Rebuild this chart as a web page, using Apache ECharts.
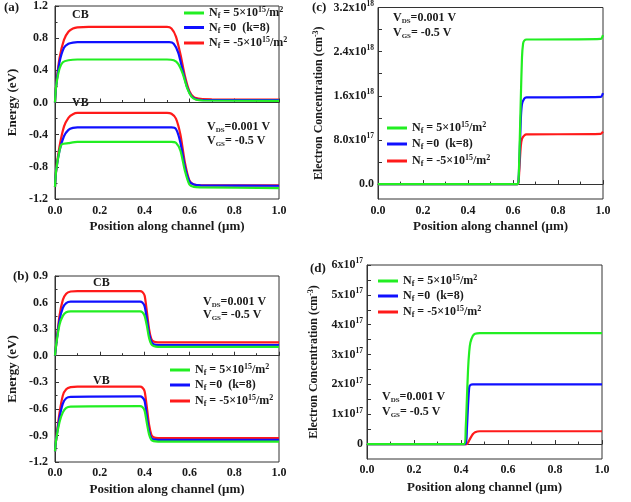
<!DOCTYPE html>
<html>
<head>
<meta charset="utf-8">
<title>Energy bands and electron concentration</title>
<script src="https://cdn.jsdelivr.net/npm/echarts@6/dist/echarts.min.js"></script>
<style>
  html, body { margin: 0; padding: 0; background: #fff; }
  #chart { width: 631px; height: 502px; }
</style>
</head>
<body>
<div id="chart"></div>
<script>
// series names (order: Nf>0, Nf=0, Nf<0)
const seriesNames = ['Nf = 5x10^15/m^2', 'Nf = 0 (k=8)', 'Nf = -5x10^15/m^2']
const seriesColors = ['#22ee22', '#1010ff', '#ff1a1a']

// (a) energy bands, [position um, energy eV]
const aCbGreen = [[0,0],[0.005,0.2],[0.02,0.42],[0.035,0.5],[0.06,0.525],[0.1,0.535],[0.5,0.535],[0.53,0.525],[0.55,0.48],[0.57,0.36],[0.59,0.18],[0.61,0.07],[0.63,0.035],[0.66,0.025],[1,0.02]]
const aCbBlue = [[0,0],[0.005,0.2],[0.02,0.5],[0.04,0.68],[0.06,0.73],[0.08,0.745],[0.1,0.75],[0.51,0.75],[0.53,0.73],[0.55,0.62],[0.57,0.4],[0.59,0.19],[0.61,0.075],[0.63,0.04],[0.66,0.03],[1,0.03]]
const aCbRed = [[0,0],[0.005,0.2],[0.02,0.55],[0.04,0.78],[0.06,0.88],[0.08,0.92],[0.1,0.935],[0.15,0.94],[0.5,0.94],[0.52,0.92],[0.54,0.82],[0.56,0.6],[0.58,0.33],[0.6,0.14],[0.62,0.065],[0.65,0.045],[0.7,0.04],[1,0.035]]
const aVbGreen = [[0,-1.05],[0.005,-0.85],[0.02,-0.6],[0.03,-0.52],[0.06,-0.505],[0.1,-0.49],[0.52,-0.49],[0.54,-0.5],[0.56,-0.6],[0.58,-0.85],[0.6,-1.02],[0.62,-1.05],[0.65,-1.055],[1,-1.065]]
const aVbBlue = [[0,-1.05],[0.005,-0.85],[0.02,-0.6],[0.04,-0.42],[0.06,-0.34],[0.08,-0.315],[0.1,-0.31],[0.52,-0.31],[0.54,-0.33],[0.56,-0.5],[0.58,-0.8],[0.6,-0.98],[0.62,-1.02],[0.65,-1.03],[1,-1.035]]
const aVbRed = [[0,-1.05],[0.005,-0.85],[0.02,-0.55],[0.04,-0.3],[0.06,-0.19],[0.08,-0.145],[0.1,-0.13],[0.5,-0.13],[0.52,-0.14],[0.54,-0.2],[0.56,-0.4],[0.58,-0.75],[0.6,-0.97],[0.62,-1.02],[0.65,-1.03],[1,-1.03]]

// (b) energy bands
const bCbGreen = [[0,0],[0.005,0.12],[0.02,0.35],[0.035,0.45],[0.05,0.49],[0.07,0.5],[0.38,0.5],[0.39,0.49],[0.4,0.45],[0.41,0.34],[0.42,0.2],[0.43,0.13],[0.44,0.11],[0.46,0.1],[1,0.1]]
const bCbBlue = [[0,0],[0.005,0.12],[0.02,0.4],[0.035,0.54],[0.05,0.595],[0.07,0.61],[0.38,0.61],[0.39,0.6],[0.4,0.56],[0.41,0.42],[0.42,0.25],[0.43,0.16],[0.44,0.13],[0.46,0.12],[1,0.12]]
const bCbRed = [[0,0],[0.005,0.12],[0.02,0.45],[0.035,0.63],[0.05,0.7],[0.07,0.725],[0.1,0.73],[0.38,0.73],[0.39,0.72],[0.4,0.68],[0.41,0.5],[0.42,0.3],[0.43,0.19],[0.44,0.16],[0.46,0.15],[1,0.15]]
const bVbGreen = [[0,-1.08],[0.005,-0.95],[0.02,-0.75],[0.035,-0.64],[0.05,-0.59],[0.07,-0.575],[0.38,-0.57],[0.39,-0.58],[0.4,-0.62],[0.41,-0.76],[0.42,-0.89],[0.43,-0.95],[0.44,-0.965],[0.46,-0.97],[1,-0.97]]
const bVbBlue = [[0,-1.08],[0.005,-0.95],[0.02,-0.7],[0.035,-0.54],[0.05,-0.48],[0.07,-0.465],[0.38,-0.46],[0.39,-0.47],[0.4,-0.51],[0.41,-0.68],[0.42,-0.85],[0.43,-0.93],[0.44,-0.945],[0.46,-0.95],[1,-0.95]]
const bVbRed = [[0,-1.08],[0.005,-0.95],[0.02,-0.65],[0.035,-0.45],[0.05,-0.38],[0.07,-0.355],[0.1,-0.35],[0.38,-0.35],[0.39,-0.36],[0.4,-0.4],[0.41,-0.58],[0.42,-0.78],[0.43,-0.89],[0.44,-0.92],[0.46,-0.93],[1,-0.93]]

// (c) electron concentration, values in 1e18 cm^-3
const cGreen = [[0,0],[0.62,0],[0.625,0.1],[0.63,0.8],[0.635,1.6],[0.64,2.3],[0.645,2.55],[0.65,2.6],[0.66,2.62],[0.7,2.62],[0.99,2.63],[1,2.7]]
const cBlue = [[0,0],[0.62,0],[0.625,0.1],[0.63,0.6],[0.635,1.2],[0.64,1.45],[0.65,1.55],[0.66,1.57],[0.99,1.58],[1,1.65]]
const cRed = [[0,0],[0.62,0],[0.625,0.05],[0.63,0.4],[0.635,0.7],[0.64,0.82],[0.65,0.88],[0.66,0.9],[0.99,0.91],[1,0.95]]

// (d) electron concentration, values in 1e17 cm^-3
const dGreen = [[0,0],[0.415,0],[0.42,0.5],[0.425,1.5],[0.43,2.5],[0.435,3.1],[0.44,3.4],[0.45,3.62],[0.46,3.7],[0.48,3.72],[1,3.72]]
const dBlue = [[0,0],[0.42,0],[0.425,0.5],[0.43,1.3],[0.435,1.9],[0.44,1.98],[0.45,2.0],[1,2.0]]
const dRed = [[0,0],[0.425,0],[0.43,0.05],[0.44,0.2],[0.45,0.33],[0.46,0.4],[0.48,0.43],[1,0.43]]

// tick values / labels for the concentration axes
const cTickVals = [0, 0.8, 1.6, 2.4, 3.2]
const cTickText = ['{b|0.0}', '{b|8.0x10}{s|17}', '{b|1.6x10}{s|18}', '{b|2.4x10}{s|18}', '{b|3.2x10}{s|18}']
const cMinorVals = [0.4, 1.2, 2.0, 2.8]
const dTickVals = [0, 1, 2, 3, 4, 5, 6]
const dTickText = ['{b|0}', '{b|1x10}{s|17}', '{b|2x10}{s|17}', '{b|3x10}{s|17}', '{b|4x10}{s|17}', '{b|5x10}{s|17}', '{b|6x10}{s|17}']
const dMinorVals = [0.5, 1.5, 2.5, 3.5, 4.5, 5.5]

const FONT = '"Liberation Serif", "Times New Roman", serif'
const INK = '#1a1a1a'

const legendText = {}
legendText[seriesNames[0]] = '{n|N}{sub|f}{n| = 5×10}{sup|15}{n|/m}{sup|2}'
legendText[seriesNames[1]] = '{n|N}{sub|f}{n| =0  (k=8)}'
legendText[seriesNames[2]] = '{n|N}{sub|f}{n| = -5×10}{sup|15}{n|/m}{sup|2}'

const legendRich = {
  n: { fontFamily: FONT, fontWeight: 'bold', fontSize: 12, color: INK, lineHeight: 14 },
  sub: { fontFamily: FONT, fontWeight: 'bold', fontSize: 8, color: INK, verticalAlign: 'bottom' },
  sup: { fontFamily: FONT, fontWeight: 'bold', fontSize: 8, color: INK, verticalAlign: 'top' }
}
const labelRich = {
  b: { fontFamily: FONT, fontWeight: 'bold', fontSize: 12, color: INK, lineHeight: 15 },
  s: { fontFamily: FONT, fontWeight: 'bold', fontSize: 7.5, color: INK, verticalAlign: 'top' }
}

function makeLegend(left, top, gap) {
  return {
    left: left, top: top, orient: 'vertical', padding: 0, itemGap: gap,
    itemWidth: 20, itemHeight: 3, icon: 'rect', selectedMode: false,
    data: seriesNames,
    formatter: function (name) { return legendText[name] },
    textStyle: { rich: legendRich }
  }
}

const nameStyle = { fontFamily: FONT, fontWeight: 'bold', fontSize: 13, color: INK }
const tickLine = { color: '#333', width: 1 }

function xAxisFor(grid, margin, gap) {
  return {
    type: 'value', gridIndex: grid, min: 0, max: 1, interval: 0.2,
    name: 'Position along channel (μm)', nameLocation: 'middle', nameGap: gap,
    nameTextStyle: nameStyle,
    axisLine: { lineStyle: tickLine },
    axisTick: { inside: true, length: 4, lineStyle: tickLine },
    minorTick: { show: true, splitNumber: 2, length: 2.5, lineStyle: tickLine },
    splitLine: { show: false },
    axisLabel: { fontFamily: FONT, fontWeight: 'bold', fontSize: 12, color: INK, margin: margin,
      formatter: function (v) { return v.toFixed(1) } }
  }
}

function energyAxis(grid, min, max, step) {
  return {
    type: 'value', gridIndex: grid, min: min, max: max, interval: step,
    name: 'Energy (eV)', nameLocation: 'middle', nameGap: 36, nameTextStyle: nameStyle,
    axisLine: { lineStyle: tickLine },
    axisTick: { inside: true, length: 4, lineStyle: tickLine },
    minorTick: { show: true, splitNumber: 2, length: 2.5, lineStyle: tickLine },
    splitLine: { show: false },
    axisLabel: { fontFamily: FONT, fontWeight: 'bold', fontSize: 12, color: INK, margin: 7,
      formatter: function (v) { return (Math.abs(v) < 1e-9 ? 0 : v).toFixed(1) } }
  }
}

function concAxis(grid, min, max, vals, texts, minors, gap) {
  return {
    type: 'value', gridIndex: grid, min: min, max: max,
    name: '{t|Electron Concentration (cm}{s|-3}{t|)}', nameLocation: 'middle', nameGap: gap,
    nameTextStyle: { rich: {
      t: { fontFamily: FONT, fontWeight: 'bold', fontSize: 12, color: INK, lineHeight: 14 },
      s: { fontFamily: FONT, fontWeight: 'bold', fontSize: 8, color: INK, verticalAlign: 'top' }
    } },
    axisLine: { lineStyle: tickLine },
    axisTick: { inside: true, length: 4, lineStyle: tickLine, customValues: vals.concat(minors) },
    splitLine: { show: false },
    axisLabel: { margin: 4, customValues: vals, rich: labelRich,
      formatter: function (v) { return texts[vals.indexOf(v)] || '' } }
  }
}

function lines(xi, data3, smooth) {
  return data3.map(function (d, i) {
    return {
      name: seriesNames[i], type: 'line', xAxisIndex: xi, yAxisIndex: xi,
      data: d, showSymbol: false, smooth: smooth, z: 3 - i,
      lineStyle: { width: 2.2, color: seriesColors[i] },
      itemStyle: { color: seriesColors[i] }
    }
  })
}

function txt(x, y, text, size, rich) {
  return {
    type: 'text', x: x, y: y,
    style: { text: text, fontFamily: FONT, fontWeight: 'bold', fontSize: size, fill: INK,
      verticalAlign: 'middle', rich: rich }
  }
}

const vRich = {
  b: { fontFamily: FONT, fontWeight: 'bold', fontSize: 12, color: INK, lineHeight: 14 },
  sub: { fontFamily: FONT, fontWeight: 'bold', fontSize: 7, color: INK, verticalAlign: 'bottom' }
}
const vds = '{b|V}{sub|DS}{b|=0.001 V}'
const vgs = '{b|V}{sub|GS}{b|= -0.5 V}'

const chart = echarts.init(document.getElementById('chart'), null, { renderer: 'canvas' })

const gridStyle = { show: true, borderColor: '#333', borderWidth: 1, backgroundColor: 'transparent', containLabel: false }

const option = {
  backgroundColor: '#fff',
  animation: false,
  grid: [
    Object.assign({ left: 55, top: 4, width: 224, height: 195 }, gridStyle),
    Object.assign({ left: 378, top: 4, width: 225, height: 195 }, gridStyle),
    Object.assign({ left: 55, top: 276, width: 224, height: 186 }, gridStyle),
    Object.assign({ left: 367, top: 265, width: 235, height: 194 }, gridStyle)
  ],
  xAxis: [xAxisFor(0, 6, 21), xAxisFor(1, 6, 21), xAxisFor(2, 5, 21), xAxisFor(3, 5, 22)],
  yAxis: [
    energyAxis(0, -1.2, 1.2, 0.4),
    concAxis(1, -0.27, 3.2, cTickVals, cTickText, cMinorVals, 52),
    energyAxis(2, -1.2, 0.9, 0.3),
    concAxis(3, -0.5, 6, dTickVals, dTickText, dMinorVals, 46)
  ],
  legend: [makeLegend(184, 6, 1.5), makeLegend(387, 121, 3), makeLegend(170, 363, 2), makeLegend(378, 274, 2)],
  series: []
    .concat(lines(0, [aCbGreen, aCbBlue, aCbRed], 0.25))
    .concat(lines(0, [aVbGreen, aVbBlue, aVbRed], 0.25))
    .concat(lines(1, [cGreen, cBlue, cRed], 0.2))
    .concat(lines(2, [bCbGreen, bCbBlue, bCbRed], 0.25))
    .concat(lines(2, [bVbGreen, bVbBlue, bVbRed], 0.25))
    .concat(lines(3, [dGreen, dBlue, dRed], 0.2)),
  graphic: [
    txt(4, 8, '(a)', 13), txt(312, 8, '(c)', 13), txt(13, 277, '(b)', 13), txt(310, 269, '(d)', 13),
    txt(72, 15, 'CB', 12), txt(72, 103, 'VB', 12),
    txt(93, 283, 'CB', 12), txt(93, 381, 'VB', 12),
    txt(207, 127, vds, 12, vRich), txt(207, 141, vgs, 12, vRich),
    txt(203, 302, vds, 12, vRich), txt(203, 315, vgs, 12, vRich),
    txt(393, 18, vds, 12, vRich), txt(393, 33, vgs, 12, vRich),
    txt(382, 397, vds, 12, vRich), txt(382, 412, vgs, 12, vRich)
  ]
}

chart.setOption(option)

window.addEventListener('resize', function () {
  chart.resize()
})
</script>
</body>
</html>
